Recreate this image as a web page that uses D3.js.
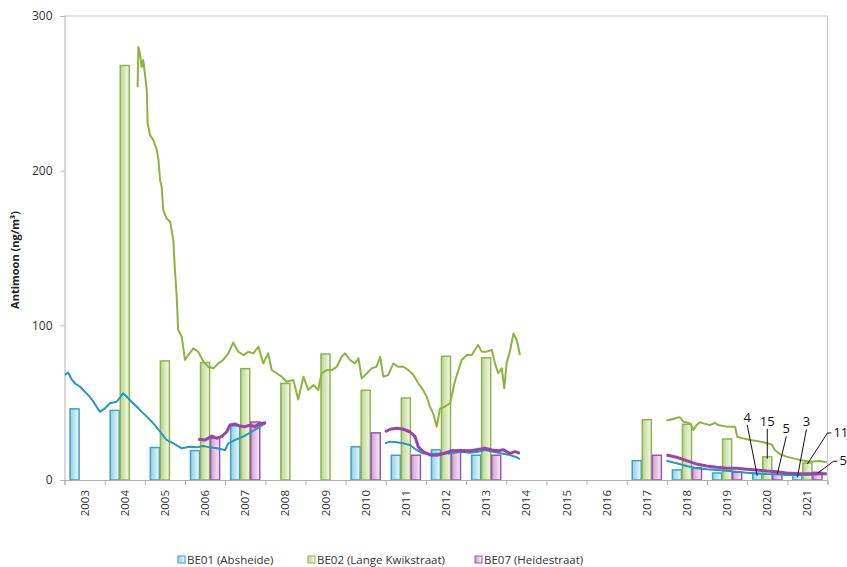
<!DOCTYPE html>
<html>
<head>
<meta charset="utf-8">
<script src="https://cdn.jsdelivr.net/npm/d3@7"></script>
<style>
  body { margin: 0; background: #fff; }
  text { font-family: "Open Sans", "Liberation Sans", sans-serif; }
</style>
</head>
<body>
<svg id="chart" width="847" height="567"></svg>
<script>
// Yearly means per station (ng/m³); null = no measurement that year
const years = ["2003","2004","2005","2006","2007","2008","2009","2010","2011","2012",
               "2013","2014","2015","2016","2017","2018","2019","2020","2021"];
const be01 = [46, 45, 21, 19, 35, null, null, 21.5, 16, 19.5, 16, null, null, null, 12.5, 6.5, 4.5, 4, 3];
const be02 = [null, 268, 77, 76, 72, 62.5, 81.5, 58, 53, 80, 79, null, null, null, 39, 36, 26.5, 15, 11];
const be07 = [null, null, null, 27, 37.5, null, null, 30.5, 16, 19, 16, null, null, null, 16, 8, 5, 5, 5];
const yTicks = [0, 100, 200, 300];

// Running averages: [decimal year, value]; null value breaks the line
const be01Trend = [
  [2003.01,68],[2003.09,69.5],[2003.18,65],[2003.26,62.5],[2003.39,60.3],[2003.51,57],[2003.63,53.8],
  [2003.72,50.6],[2003.80,47.4],[2003.88,44.2],[2004.01,46.3],[2004.13,49.6],[2004.30,50.6],[2004.46,56],
  [2004.55,53.8],[2004.67,50.6],[2004.80,47.4],[2004.92,44.2],[2005.09,40],[2005.25,35.5],[2005.38,31.2],
  [2005.54,26],[2005.71,23.7],[2005.92,20.5],[2006.12,21.5],[2006.29,21.1],[2006.46,22],[2006.62,21.1],
  [2006.79,20.5],[2007.00,19.4],[2007.08,23.7],[2007.25,25.9],[2007.45,28],[2007.66,31.2],[2007.87,34.5],
  [2007.99,36.6],
  [2009,null],
  [2010.98,23.7],[2011.11,24.8],[2011.27,24.4],[2011.44,23.7],[2011.60,22.6],[2011.77,19.4],[2011.93,17.2],
  [2012.14,16.8],[2012.35,17.2],[2012.60,17.2],[2012.85,18.3],[2013.10,17.6],[2013.30,18.3],[2013.47,19.4],
  [2013.68,18.3],[2013.89,17.2],[2014.09,16.2],[2014.26,14.7],[2014.34,13.4],
  [2016,null],
  [2017.99,12.5],[2018.24,10.8],[2018.49,9.1],[2018.74,7.6],[2018.99,6.9],[2019.24,6.5],[2019.49,6],
  [2019.74,5.4],[2019.99,4.7],[2020.24,4.3],[2020.49,3.9],[2020.73,3.7],[2020.98,3.2],[2021.23,3.2],
  [2021.48,3.2],[2021.73,3.7],[2021.98,3.9]
];
const be02Trend = [
  [2004.82,254],[2004.84,280],[2004.88,275.8],[2004.92,267],[2004.96,271.5],[2005.00,263],[2005.05,252],
  [2005.07,230.6],[2005.13,223],[2005.21,219.8],[2005.30,213.3],[2005.34,206.9],[2005.38,193.9],[2005.42,189.6],
  [2005.46,174.5],[2005.54,169.2],[2005.63,167],[2005.71,155.1],[2005.75,135.7],[2005.79,120.7],[2005.83,97],
  [2005.92,92.6],[2006.00,77.6],[2006.08,80.8],[2006.21,85.1],[2006.33,82.9],[2006.46,76.5],[2006.58,73.2],
  [2006.71,72.2],[2006.83,75.4],[2006.95,77.6],[2007.08,81.9],[2007.20,88.8],[2007.33,82.9],[2007.45,80.8],
  [2007.58,82.9],[2007.70,81.9],[2007.83,86.2],[2007.95,75.4],[2008.07,81.9],[2008.16,71.1],[2008.28,69],
  [2008.41,66.8],[2008.53,63.5],[2008.70,64.6],[2008.82,52],[2008.95,66.8],[2009.07,58.2],[2009.20,61.4],
  [2009.32,58.2],[2009.40,69],[2009.53,71.1],[2009.65,71.1],[2009.78,73.2],[2009.90,79.7],[2009.99,81.9],
  [2010.11,77.6],[2010.23,75.4],[2010.32,78.7],[2010.40,65.7],[2010.53,69],[2010.65,72.2],[2010.77,73.2],
  [2010.86,79.7],[2010.94,66.8],[2011.06,67.9],[2011.19,75.4],[2011.31,73.2],[2011.44,73.2],[2011.56,71.1],
  [2011.69,67.9],[2011.81,62.5],[2011.93,58.2],[2012.02,53.8],[2012.10,47.4],[2012.18,43.1],[2012.27,34.5],
  [2012.35,46.3],[2012.47,47.4],[2012.60,49.6],[2012.72,63.5],[2012.81,71.1],[2012.89,77.6],[2013.02,80.8],
  [2013.14,80.8],[2013.22,84],[2013.30,87.3],[2013.39,83],[2013.51,83],[2013.64,84],[2013.72,75.4],
  [2013.80,69],[2013.89,72.2],[2013.95,59.3],[2014.01,75.4],[2014.09,83],[2014.18,94.8],[2014.26,90.5],
  [2014.30,86.2],[2014.34,80.8],
  [2016,null],
  [2017.99,38.5],[2018.16,39.4],[2018.28,40.5],[2018.33,40.3],[2018.41,37.7],[2018.58,36.6],[2018.66,32.3],
  [2018.74,35.5],[2018.82,37.3],[2018.91,36.6],[2019.07,35.5],[2019.20,37],[2019.28,35.5],[2019.49,34.5],
  [2019.61,34.5],[2019.70,34.5],[2019.75,28],[2019.90,26.9],[2020.07,25.9],[2020.24,25.2],[2020.40,24.4],
  [2020.61,23],[2020.69,19.4],[2020.82,16.6],[2020.98,15.1],[2021.15,14],[2021.32,12.9],[2021.56,11.8],
  [2021.81,12.3],[2021.98,11.5]
];
const be07Trend = [
  [2006.33,26.3],[2006.50,25.9],[2006.67,28.4],[2006.79,27],[2006.91,28],[2007.04,31.2],[2007.12,35.5],
  [2007.25,36.2],[2007.37,34.9],[2007.49,34.5],[2007.62,35.5],[2007.74,34.5],[2007.87,36.6],[2008.02,37],
  [2009,null],
  [2010.98,31.2],[2011.11,32.8],[2011.27,33.4],[2011.44,32.8],[2011.60,31.2],[2011.73,28],[2011.81,21.5],
  [2011.93,18.3],[2012.10,16.2],[2012.27,16],[2012.43,17],[2012.64,18.9],[2012.85,19],[2013.10,18.9],
  [2013.30,19.8],[2013.47,20.5],[2013.64,19.4],[2013.80,18.9],[2013.93,19.5],[2014.09,17.2],[2014.22,18.3],
  [2014.34,17.2],
  [2016,null],
  [2017.99,16.2],[2018.24,14.7],[2018.49,12.5],[2018.74,10.3],[2018.99,9.1],[2019.24,8.2],[2019.49,7.6],
  [2019.74,7.6],[2019.99,6.9],[2020.24,6.5],[2020.49,5.8],[2020.73,5.4],[2020.98,4.6],[2021.23,4.2],
  [2021.48,4.1],[2021.73,4.1],[2021.98,4.1]
];

// Value callouts for the two most recent years
const callouts = [
  { year: "2020", key: "BE01", dx: -10, dy: -52, anchor: "middle" },
  { year: "2020", key: "BE02", dx: 0,   dy: -31, anchor: "middle" },
  { year: "2020", key: "BE07", dx: 9,   dy: -39, anchor: "middle" },
  { year: "2021", key: "BE01", dx: 9,   dy: -49, anchor: "middle" },
  { year: "2021", key: "BE02", dx: 26,  dy: -26, anchor: "start" },
  { year: "2021", key: "BE07", dx: 22,  dy: -7,  anchor: "start" }
];

const series = [
  { key: "BE01", name: "BE01 (Absheide)",          values: be01, trend: be01Trend,
    stroke: "#3aa3c9", light: "#92cfe5", pale: "#eef8fb", line: "#2398c2", lw: 2 },
  { key: "BE02", name: "BE02 (Lange Kwikstraat)",  values: be02, trend: be02Trend,
    stroke: "#8db649", light: "#bcd590", pale: "#f5f9ee", line: "#8cb43f", lw: 2 },
  { key: "BE07", name: "BE07 (Heidestraat)",       values: be07, trend: be07Trend,
    stroke: "#a053ae", light: "#cb9dd3", pale: "#f7eff8", line: "#9b43ab", lw: 3 }
];

const svg = d3.select("#chart");
const plotLeft = 64.5, plotRight = 827.5, plotTop = 16, plotBottom = 480;

const x = d3.scaleBand().domain(years).range([plotLeft, plotRight]);
const xs = d3.scaleBand().domain(series.map(s => s.key)).range([0, x.bandwidth()]).paddingOuter(0.5);
const xt = d3.scaleLinear().domain([2003, 2022]).range([plotLeft, plotRight]);
const y = d3.scaleLinear().domain([0, 300]).range([plotBottom, plotTop]);

// gradients for bar fills
const defs = svg.append("defs");
series.forEach(s => {
  const g = defs.append("linearGradient").attr("id", "grad-" + s.key)
    .attr("x1", "0%").attr("x2", "100%").attr("y1", "0%").attr("y2", "0%");
  g.append("stop").attr("offset", "0%").attr("stop-color", s.light);
  g.append("stop").attr("offset", "100%").attr("stop-color", s.pale);
});

// plot frame (top and right)
svg.append("path")
  .attr("d", `M${plotLeft},${plotTop}H${plotRight}V${plotBottom}`)
  .attr("fill", "none").attr("stroke", "#c8c8c8").attr("stroke-width", 1);

// bars
const barLayer = svg.append("g");
series.forEach(s => {
  const data = years.map((yr, i) => ({ yr, v: s.values[i] })).filter(d => d.v != null);
  barLayer.selectAll(null).data(data).enter().append("rect")
    .attr("x", d => x(d.yr) + xs(s.key) + 0.5)
    .attr("width", xs.bandwidth() - 1)
    .attr("y", d => y(d.v))
    .attr("height", d => y(0) - y(d.v))
    .attr("fill", `url(#grad-${s.key})`)
    .attr("stroke", s.stroke)
    .attr("stroke-width", 1.5);
});

// y axis
const yAxis = svg.append("g").attr("transform", `translate(${plotLeft},0)`)
  .call(d3.axisLeft(y).tickValues(yTicks).tickSize(4).tickPadding(8));
yAxis.select(".domain").attr("stroke", "#b0b0b0");
yAxis.selectAll(".tick line").attr("stroke", "#b0b0b0");
yAxis.selectAll(".tick text").attr("font-size", 12).attr("fill", "#333")
  .attr("font-family", "Open Sans, sans-serif");

// x axis: boundary ticks
const bounds = d3.range(2003, 2023);
const xTickAxis = svg.append("g").attr("transform", `translate(0,${plotBottom})`)
  .call(d3.axisBottom(xt).tickValues(bounds).tickSize(5).tickFormat(""));
xTickAxis.select(".domain").attr("stroke", "#b0b0b0");
xTickAxis.selectAll(".tick line").attr("stroke", "#b0b0b0");

// x axis: rotated year labels at category centres
const xLab = svg.append("g").attr("transform", `translate(0,${plotBottom})`)
  .call(d3.axisBottom(x).tickSize(0));
xLab.select(".domain").remove();
xLab.selectAll(".tick text")
  .attr("transform", "rotate(-90)")
  .attr("text-anchor", "end")
  .attr("x", -10).attr("y", 0).attr("dy", "0.35em")
  .attr("font-size", 11.5).attr("fill", "#333")
  .attr("font-family", "Open Sans, sans-serif");

// trend lines
const line = d3.line().defined(d => d[1] != null).x(d => xt(d[0])).y(d => y(d[1]));
series.forEach(s => {
  svg.append("path").datum(s.trend)
    .attr("d", line).attr("fill", "none")
    .attr("stroke", s.line).attr("stroke-width", s.lw)
    .attr("stroke-linejoin", "round");
});

// y title
svg.append("text")
  .attr("transform", `translate(19,${(plotTop + plotBottom) / 2 + 12}) rotate(-90)`)
  .attr("text-anchor", "middle")
  .attr("font-size", 11).attr("font-weight", "bold").attr("fill", "#222")
  .text("Antimoon (ng/m³)");

// callouts with leader lines
const byKey = Object.fromEntries(series.map(s => [s.key, s]));
const calloutLayer = svg.append("g");
callouts.forEach(c => {
  const v = byKey[c.key].values[years.indexOf(c.year)];
  const bx = x(c.year) + xs(c.key) + xs.bandwidth() / 2;
  const by = y(v);
  const lx = bx + c.dx, ly = by + c.dy;
  let d;
  if (c.anchor === "middle") {
    d = `M${lx},${ly + 3}L${bx},${by + 2}`;
  } else {
    d = `M${lx - 2},${ly - 4}H${lx - 6}L${bx},${by + 1}`;
  }
  calloutLayer.append("path").attr("d", d).attr("fill", "none")
    .attr("stroke", "#111").attr("stroke-width", 1);
  calloutLayer.append("text")
    .attr("x", lx).attr("y", ly)
    .attr("text-anchor", c.anchor)
    .attr("font-family", "Liberation Sans, Arial, sans-serif")
    .attr("font-size", 13).attr("fill", "#111")
    .text(String(v));
});

// legend
const legendX = [187, 317, 484];
const legend = svg.append("g");
series.forEach((s, i) => {
  const g = legend.append("g").attr("transform", `translate(${legendX[i]},560)`);
  g.append("rect").attr("x", -9).attr("y", -4).attr("width", 7).attr("height", 7)
    .attr("fill", `url(#grad-${s.key})`).attr("stroke", s.stroke).attr("stroke-width", 1);
  g.append("text").attr("x", 0).attr("y", 0).attr("dy", "0.35em")
    .attr("font-size", 11.5).attr("fill", "#333")
    .text(s.name);
});
</script>
</body>
</html>
